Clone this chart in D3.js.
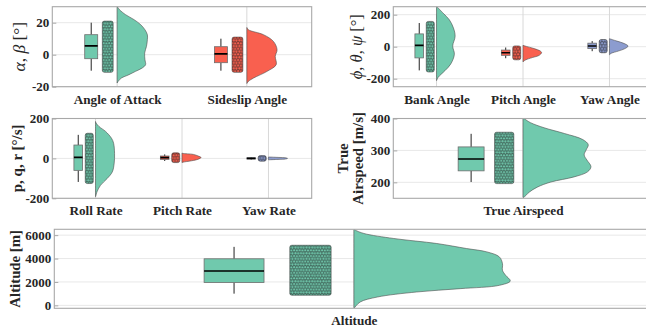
<!DOCTYPE html>
<html><head><meta charset="utf-8">
<script src="https://cdn.jsdelivr.net/npm/d3@7/dist/d3.min.js"></script>
<style>
html,body{margin:0;padding:0;background:#fff;overflow:hidden}
svg{display:block}
</style></head><body>
<svg id="chart" width="646" height="330"></svg>
<script>
// ================= DATA =================
const catsAB = ["Angle of Attack", "Sideslip Angle"];
const catsEuler = ["Bank Angle", "Pitch Angle", "Yaw Angle"];
const catsRates = ["Roll Rate", "Pitch Rate", "Yaw Rate"];
const catsAirspeed = ["True Airspeed"];
const catsAltitude = ["Altitude"];

// box stats: [lower whisker, q1, median, q3, upper whisker]
const aoaBox = [-10, -2.5, 5.5, 12.5, 20];
const sideslipBox = [-10, -5, 0.5, 5, 10];
const bankBox = [-148, -70, 8, 80, 148];
const pitchAngleBox = [-72, -54, -38, -21, -5];
const yawAngleBox = [-28, -12, 4, 22, 35];
const rollRateBox = [-118, -60, 5, 67, 118];
const pitchRateBox = [-13, -5, 4, 12, 20];
const yawRateBox = [-6, -3, 0, 3, 6];
const airspeedBox = [201, 236, 273, 311, 352];
const altitudeBox = [1000, 1950, 2940, 3980, 5000];

// violin outlines: values and relative density
const aoaViolinV = [30.2, 28.1, 25, 21.9, 18.75, 15.6, 12.5, 9.4, 5.2, 1, -3.1, -6.25, -8.3, -10.4, -12.5, -14.6, -16.7, -17.7];
const aoaViolinD = [0, 0.08, 0.28, 0.56, 0.78, 0.92, 1.0, 1.0, 0.97, 0.91, 0.92, 0.94, 0.83, 0.61, 0.39, 0.14, 0.03, 0];
const sideslipViolinV = [17, 15.6, 12.5, 8.3, 3.1, -1, -6.25, -10.4, -14.6, -16.7, -18];
const sideslipViolinD = [0, 0.05, 0.55, 0.88, 1.0, 0.94, 0.97, 0.67, 0.22, 0.05, 0];
const bankViolinV = [250, 209, 168, 117, 65, 4, -47, -109, -150, -191, -212];
const bankViolinD = [0.02, 0.36, 0.69, 0.91, 1.0, 0.87, 0.96, 0.76, 0.45, 0.09, 0];
const pitchAngleViolinV = [10, 8, -12, -27, -37, -54, -68, -82, -92, -95];
const pitchAngleViolinD = [0, 0.02, 0.6, 0.93, 1.0, 0.87, 0.5, 0.15, 0.02, 0];
const yawAngleViolinV = [50, 35, 20, 4, -12, -27, -41, -50];
const yawAngleViolinD = [0, 0.4, 0.79, 1.0, 0.83, 0.48, 0.1, 0];
const rollRateViolinV = [185, 177, 160, 135, 101, 76, 25, -25, -68, -101, -135, -169, -186, -192];
const rollRateViolinD = [0, 0.03, 0.18, 0.53, 0.84, 0.95, 1.0, 0.98, 0.88, 0.61, 0.26, 0.07, 0.02, 0];
const pitchRateViolinV = [27, 25, 20, 12, 5, -4, -12, -19, -21];
const pitchRateViolinD = [0, 0.05, 0.6, 0.85, 1.0, 0.85, 0.5, 0.05, 0];
const yawRateViolinV = [7, 5, 3, 0, -3, -5, -7];
const yawRateViolinD = [0, 0.5, 0.9, 1.0, 0.9, 0.5, 0];
const airspeedViolinV = [400, 387, 371, 353, 334, 318, 302, 286, 270, 249, 233, 217, 201, 185, 169, 153];
const airspeedViolinD = [0.015, 0.11, 0.31, 0.61, 0.88, 0.96, 0.93, 0.9, 0.94, 1.0, 0.95, 0.75, 0.41, 0.21, 0.09, 0.015];
const altitudeViolinV = [6500, 6429, 6143, 5714, 5286, 4857, 4571, 4143, 3571, 3000, 2571, 2086, 1714, 1429, 1143, 714, 286, -200];
const altitudeViolinD = [0.005, 0.01, 0.064, 0.255, 0.53, 0.72, 0.85, 0.93, 0.95, 0.95, 0.97, 1.0, 0.93, 0.68, 0.4, 0.15, 0.04, 0.004];

// y tick labels
const ticksAB = [-20, 0, 20];
const ticksEuler = [-200, 0, 200];
const ticksRates = [-200, 0, 200];
const ticksAirspeed = [200, 300, 400];
const ticksAltitude = [0, 2000, 4000, 6000];

// ================= STYLE / LAYOUT =================
const teal = "#70c9ad", red = "#f9604f", blue = "#8c9ccf";
const FONT = "'Liberation Serif','Times New Roman',serif";

const svg = d3.select("#chart");
const defs = svg.append("defs");

function makePattern(id, color) {
  const S = 5.6;
  const pat = defs.append("pattern").attr("id", id)
    .attr("patternUnits", "userSpaceOnUse").attr("width", S).attr("height", S);
  pat.append("rect").attr("width", S).attr("height", S)
    .attr("fill", d3.color(color).darker(0.55));
  const pts = [[1.4, 1.4], [4.2, 1.2], [2.9, 3.9], [0, 4.1], [5.6, 4.1], [1.4, 7.0], [4.2, 6.8], [1.4, -4.2], [4.2, -4.4]];
  pat.selectAll("circle").data(pts).join("circle")
    .attr("cx", d => d[0]).attr("cy", d => d[1]).attr("r", 1.4)
    .attr("fill", color).attr("stroke", "#1e1e1e").attr("stroke-width", 0.35);
}
makePattern("dots-teal", teal);
makePattern("dots-red", red);
makePattern("dots-blue", blue);
const patternOf = {[teal]: "dots-teal", [red]: "dots-red", [blue]: "dots-blue"};

function zip(v, d) { return v.map((val, i) => ({v: val, d: d[i]})); }

const panels = [
  {cats: catsAB, yDomain: [-20, 30], ticks: ticksAB, x0: 52.3, x1: 311.7, y0: 6.7, y1: 86.7, vw: 0.233,
   series: [
     {box: aoaBox, violin: zip(aoaViolinV, aoaViolinD), color: teal},
     {box: sideslipBox, violin: zip(sideslipViolinV, sideslipViolinD), color: red}],
   ylabel: {lines: [[["α", true], [", ", false], ["β", true], [" [°]", false]]], x: 25, bold: false, size: 17.5}},
  {cats: catsEuler, yDomain: [-250, 250], ticks: ticksEuler, x0: 393.3, x1: 652.7, y0: 6.7, y1: 86.7, vw: 0.215,
   series: [
     {box: bankBox, violin: zip(bankViolinV, bankViolinD), color: teal},
     {box: pitchAngleBox, violin: zip(pitchAngleViolinV, pitchAngleViolinD), color: red},
     {box: yawAngleBox, violin: zip(yawAngleViolinV, yawAngleViolinD), color: blue}],
   ylabel: {lines: [[["ϕ", true], [", ", false], ["θ", true], [", ", false], ["ψ", true], [" [°]", false]]], x: 362, bold: false, size: 16.5}},
  {cats: catsRates, yDomain: [-200, 200], ticks: ticksRates, x0: 52.3, x1: 311.7, y0: 118.5, y1: 198.3, vw: 0.22,
   series: [
     {box: rollRateBox, violin: zip(rollRateViolinV, rollRateViolinD), color: teal},
     {box: pitchRateBox, violin: zip(pitchRateViolinV, pitchRateViolinD), color: red},
     {box: yawRateBox, violin: zip(yawRateViolinV, yawRateViolinD), color: blue}],
   ylabel: {lines: [[["p, q, r [°/s]", false]]], x: 22, bold: true, size: 15}},
  {cats: catsAirspeed, yDomain: [150, 400], ticks: ticksAirspeed, x0: 393.3, x1: 652.7, y0: 118.5, y1: 198.3, vw: 0.262,
   series: [
     {box: airspeedBox, violin: zip(airspeedViolinV, airspeedViolinD), color: teal}],
   ylabel: {lines: [[["True", false]], [["Airspeed [m/s]", false]]], x: 347.5, bold: true, size: 14.8, lh: 15}},
  {cats: catsAltitude, yDomain: [-250, 6500], ticks: ticksAltitude, x0: 54.3, x1: 653.5, y0: 229.3, y1: 308.3, vw: 0.261,
   series: [
     {box: altitudeBox, violin: zip(altitudeViolinV, altitudeViolinD), color: teal}],
   ylabel: {lines: [[["Altitude [m]", false]]], x: 19.5, bold: true, size: 14.8}}
];

panels.forEach((p, pi) => {
  const g = svg.append("g");
  const n = p.cats.length;
  const x = d3.scaleLinear().domain([0.5, n + 0.5]).range([p.x0, p.x1]);
  const y = d3.scaleLinear().domain(p.yDomain).range([p.y1, p.y0]);

  defs.append("clipPath").attr("id", "clip" + pi).append("rect")
    .attr("x", p.x0).attr("y", p.y0).attr("width", p.x1 - p.x0).attr("height", p.y1 - p.y0);

  // grid
  g.append("g").selectAll("line").data(p.ticks).join("line")
    .attr("x1", p.x0).attr("x2", p.x1).attr("y1", d => y(d)).attr("y2", d => y(d))
    .attr("stroke", "#e8e8e8").attr("stroke-width", 1);
  g.append("g").selectAll("line").data(d3.range(1, n + 1)).join("line")
    .attr("x1", d => x(d)).attr("x2", d => x(d)).attr("y1", p.y0).attr("y2", p.y1)
    .attr("stroke", "#d8d8d8").attr("stroke-width", 1);

  const marks = g.append("g").attr("clip-path", `url(#clip${pi})`);
  p.series.forEach((s, i) => {
    const c = i + 1;
    // violin
    const area = d3.area().curve(d3.curveCatmullRom.alpha(0.5))
      .y(d => y(d.v)).x0(x(c)).x1(d => x(c + d.d * p.vw));
    marks.append("path").attr("d", area(s.violin))
      .attr("fill", s.color).attr("stroke", "#4d4d4d").attr("stroke-width", 0.6);
    // jitter strip
    const jx0 = x(c - 0.105) - 1.2, jx1 = x(c - 0.04) + 1.2;
    const jy0 = y(s.box[4]) - 1.6, jy1 = y(s.box[0]) + 1.6;
    marks.append("rect").attr("x", jx0).attr("y", jy0)
      .attr("width", jx1 - jx0).attr("height", jy1 - jy0)
      .attr("rx", Math.min(2, (jx1 - jx0) / 2)).attr("ry", Math.min(2, (jy1 - jy0) / 2))
      .attr("fill", `url(#${patternOf[s.color]})`).attr("stroke", "#2a2a2a").attr("stroke-width", 0.5);
    // box plot
    const bx = x(c - 0.2);
    marks.append("line").attr("x1", bx).attr("x2", bx).attr("y1", y(s.box[0])).attr("y2", y(s.box[1]))
      .attr("stroke", "#222").attr("stroke-width", 1);
    marks.append("line").attr("x1", bx).attr("x2", bx).attr("y1", y(s.box[3])).attr("y2", y(s.box[4]))
      .attr("stroke", "#222").attr("stroke-width", 1);
    marks.append("rect").attr("x", x(c - 0.25)).attr("width", x(c - 0.15) - x(c - 0.25))
      .attr("y", y(s.box[3])).attr("height", Math.max(1, y(s.box[1]) - y(s.box[3])))
      .attr("fill", s.color).attr("stroke", "#6e6e6e").attr("stroke-width", 0.8);
    marks.append("line").attr("x1", x(c - 0.25)).attr("x2", x(c - 0.15))
      .attr("y1", y(s.box[2])).attr("y2", y(s.box[2]))
      .attr("stroke", "#000").attr("stroke-width", 1.6);
  });

  // border
  g.append("rect").attr("x", p.x0).attr("y", p.y0).attr("width", p.x1 - p.x0).attr("height", p.y1 - p.y0)
    .attr("fill", "none").attr("stroke", "#a8a8a8").attr("stroke-width", 1.1);

  // y axis
  const ya = g.append("g").attr("transform", `translate(${p.x0},0)`)
    .call(d3.axisLeft(y).tickValues(p.ticks).tickFormat(d => String(d)).tickSizeInner(-4).tickSizeOuter(0).tickPadding(3));
  ya.select(".domain").remove();
  ya.selectAll(".tick line").attr("stroke", "#a8a8a8");
  ya.selectAll("text").attr("font-family", FONT).attr("font-weight", "bold").attr("font-size", 13).attr("fill", "#262626");

  // x axis (category labels)
  const xa = g.append("g").attr("transform", `translate(0,${p.y1})`)
    .call(d3.axisBottom(x).tickValues(d3.range(1, n + 1)).tickFormat(d => p.cats[d - 1]).tickSize(0).tickPadding(7.5));
  xa.select(".domain").remove();
  xa.selectAll("text").attr("font-family", FONT).attr("font-weight", "bold").attr("font-size", 13.2).attr("fill", "#262626");

  // y label
  const cy = (p.y0 + p.y1) / 2;
  const yl = p.ylabel;
  const lh = yl.lh || 0;
  yl.lines.forEach((line, li) => {
    const bx = yl.x + li * lh;
    const t = svg.append("text").attr("transform", `translate(${bx},${cy}) rotate(-90)`)
      .attr("text-anchor", "middle").attr("font-family", FONT).attr("font-size", yl.size)
      .attr("font-weight", yl.bold ? "bold" : "normal").attr("fill", "#262626");
    line.forEach(([str, it]) => {
      t.append("tspan").text(str).attr("font-style", it ? "italic" : "normal");
    });
  });
});
</script>
</body></html>
